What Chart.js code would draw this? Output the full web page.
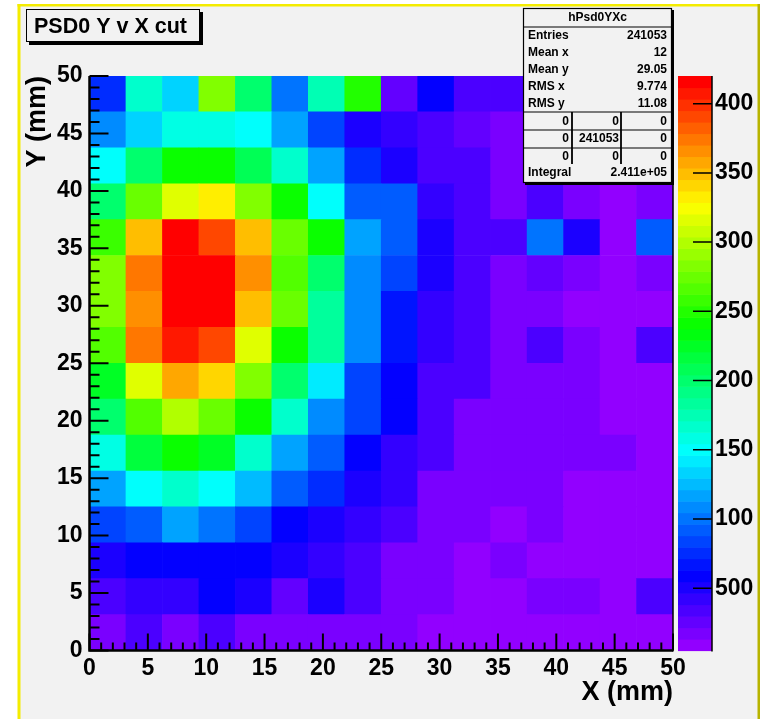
<!DOCTYPE html>
<html>
<head>
<meta charset="utf-8">
<script src="https://cdn.jsdelivr.net/npm/chart.js"></script>
<style>
  body { margin: 0; background: #fff; }
  canvas { display: block; }
</style>
</head>
<body>
<canvas id="psdChart" width="765" height="719"></canvas>
<script>
// histogram binning (16 x 16 bins over 0..50 mm)
const axisMin = 0;
const axisMax = 50;
const nBins = 16;

// bin contents, one array per Y bin, from the bottom row (y = 0) upwards
const cellCounts = [
    [17, 30, 17, 30, 17, 17, 17, 17, 17, 9, 9, 9, 9, 9, 9, 9],
    [34, 42, 42, 59, 51, 26, 51, 34, 17, 17, 9, 9, 17, 17, 9, 34],
    [51, 59, 59, 59, 55, 51, 42, 30, 17, 17, 9, 21, 9, 9, 9, 9],
    [84, 96, 113, 100, 84, 59, 51, 42, 30, 17, 17, 9, 17, 9, 9, 9],
    [117, 150, 167, 150, 125, 96, 76, 51, 42, 17, 17, 17, 17, 9, 9, 9],
    [159, 217, 242, 221, 167, 117, 92, 59, 42, 30, 17, 17, 17, 17, 21, 9],
    [200, 266, 300, 275, 242, 167, 109, 84, 59, 30, 17, 17, 17, 17, 9, 9],
    [225, 316, 358, 341, 283, 200, 142, 84, 59, 34, 34, 17, 17, 17, 9, 9],
    [266, 374, 408, 391, 316, 242, 183, 109, 67, 42, 30, 17, 34, 17, 9, 30],
    [283, 366, 415, 417, 349, 275, 183, 109, 67, 42, 30, 17, 17, 9, 9, 13],
    [283, 374, 420, 416, 362, 266, 200, 109, 84, 51, 34, 17, 26, 17, 9, 17],
    [258, 349, 418, 391, 349, 275, 242, 117, 96, 51, 34, 30, 100, 51, 9, 92],
    [200, 275, 316, 333, 283, 242, 150, 92, 88, 42, 34, 17, 34, 17, 9, 17],
    [150, 200, 242, 242, 208, 167, 117, 76, 51, 34, 30, 17, 17, 17, 9, 17],
    [105, 134, 159, 159, 150, 117, 84, 51, 42, 34, 26, 17, 17, 17, 9, 17],
    [76, 167, 134, 283, 200, 100, 175, 250, 26, 59, 34, 34, 26, 17, 17, 17]
];

// colour scale
const zMin = 5;
const zMax = Math.max(...cellCounts.flat());
const zTickValues = [50, 100, 150, 200, 250, 300, 350, 400];
const zTickLabels = ['500', '100', '150', '200', '250', '300', '350', '400'];
const nColors = 50;

// stats box
const statsName = 'hPsd0YXc';
const statsLabels = ['Entries', 'Mean x', 'Mean y', 'RMS x', 'RMS y'];
const statsValues = ['241053', '12', '29.05', '9.774', '11.08'];
const overflowCells = [
    ['0', '0', '0'],
    ['0', '241053', '0'],
    ['0', '0', '0']
];
const integralValue = '2.411e+05';

const FONT = '"Liberation Sans", Arial, Helvetica, sans-serif';
const binWidth = (axisMax - axisMin) / nBins;

function paletteIndex(z) {
    let k = Math.floor((z - zMin) / (zMax - zMin) * nColors);
    return Math.max(0, Math.min(nColors - 1, k));
}

function paletteColor(k) {
    // ROOT "pretty" palette: hue 280 -> 0, full saturation
    const hue = 280 - (k + 1) * (280 / nColors);
    return 'hsl(' + hue + ',100%,50%)';
}

const datasets = cellCounts.map((row, r) => ({
    label: 'y bin ' + r,
    data: row.map((v, i) => ({
        x: axisMin + (i + 0.5) * binWidth,
        y: [axisMin + r * binWidth, axisMin + (r + 1) * binWidth],
        z: v
    })),
    backgroundColor: row.map(v => paletteColor(paletteIndex(v))),
    borderWidth: 0,
    grouped: false,
    barPercentage: 1,
    categoryPercentage: 1
}));

const backgroundPlugin = {
    id: 'rootPad',
    beforeDraw(chart) {
        const c = chart.ctx;
        c.save();
        c.fillStyle = '#ffffff';
        c.fillRect(0, 0, chart.width, chart.height);
        c.fillStyle = '#f2f2f2';
        c.fillRect(19, 5, 740, chart.height);
        c.fillStyle = '#f4ec00';
        c.fillRect(17.5, 4, 3, chart.height);
        c.fillRect(17.5, 4, 742, 2.5);
        c.fillStyle = '#b8b400';
        c.fillRect(757.5, 4, 2.5, chart.height);
        c.restore();
    }
};

const decorPlugin = {
    id: 'rootDecor',
    afterDraw(chart) {
        const c = chart.ctx;
        const area = chart.chartArea;
        const xs = chart.scales.x;
        const ys = chart.scales.y;
        const zs = chart.scales.z;
        c.save();

        // frame and axis lines
        c.strokeStyle = '#000';
        c.lineWidth = 1.5;
        c.beginPath();
        c.moveTo(area.right, area.top);
        c.lineTo(area.right, area.bottom + 1);
        c.stroke();
        c.lineWidth = 2.5;
        c.beginPath();
        c.moveTo(area.left, area.top);
        c.lineTo(area.left, area.bottom);
        c.lineTo(area.right, area.bottom);
        c.stroke();

        // inward ticks, major every 5 mm, minor every 1 mm
        c.lineWidth = 2;
        c.beginPath();
        for (let v = axisMin; v <= axisMax; v++) {
            const major = v % 5 === 0;
            const py = ys.getPixelForValue(v);
            c.moveTo(area.left, py);
            c.lineTo(area.left + (major ? 19 : 10), py);
            const px = xs.getPixelForValue(v);
            c.moveTo(px, area.bottom);
            c.lineTo(px, area.bottom - (major ? 17 : 8));
        }
        c.stroke();

        // colour bar
        const barL = 678, barR = 712;
        for (let k = 0; k < nColors; k++) {
            const z0 = zMin + k * (zMax - zMin) / nColors;
            const z1 = zMin + (k + 1) * (zMax - zMin) / nColors;
            const y0 = zs.getPixelForValue(z0);
            const y1 = zs.getPixelForValue(z1);
            c.fillStyle = paletteColor(k);
            c.fillRect(barL, y1, barR - barL, y0 - y1 + 0.6);
        }
        c.strokeStyle = '#000';
        c.lineWidth = 1.5;
        c.beginPath();
        c.moveTo(barR, zs.getPixelForValue(zMax));
        c.lineTo(barR, zs.getPixelForValue(zMin) + 1);
        zTickValues.forEach(v => {
            const py = zs.getPixelForValue(v);
            c.moveTo(barR - 19, py);
            c.lineTo(barR, py);
        });
        c.stroke();

        // title box
        c.fillStyle = '#000';
        c.fillRect(29, 12, 174, 33);
        c.fillStyle = '#f2f2f2';
        c.fillRect(26, 9, 174, 33);
        c.lineWidth = 1;
        c.strokeRect(26.5, 9.5, 173, 32);
        c.fillStyle = '#000';
        c.font = 'bold 21.5px ' + FONT;
        c.textAlign = 'left';
        c.textBaseline = 'middle';
        c.fillText('PSD0 Y v X cut', 34, 27);

        // stats box
        const sL = 523, sR = 672, sT = 8, sB = 183;
        c.fillStyle = '#000';
        c.fillRect(sL + 2, sT + 2, sR - sL, sB - sT);
        c.fillStyle = '#f2f2f2';
        c.fillRect(sL, sT, sR - sL, sB - sT);
        c.strokeStyle = '#000';
        c.lineWidth = 1.2;
        c.strokeRect(sL + 0.5, sT + 0.5, sR - sL - 1, sB - sT - 1);
        c.beginPath();
        c.moveTo(sL, 27); c.lineTo(sR, 27);
        c.moveTo(sL, 112); c.lineTo(sR, 112);
        c.moveTo(sL, 130); c.lineTo(sR, 130);
        c.moveTo(sL, 148); c.lineTo(sR, 148);
        c.stroke();
        c.lineWidth = 1.8;
        c.beginPath();
        c.moveTo(572, 112); c.lineTo(572, 164);
        c.moveTo(621, 112); c.lineTo(621, 164);
        c.stroke();

        c.fillStyle = '#000';
        c.font = 'bold 12px ' + FONT;
        c.textAlign = 'center';
        c.fillText(statsName, (sL + sR) / 2, 18);
        statsLabels.forEach((lab, i) => {
            const py = 36 + i * 16.8;
            c.textAlign = 'left';
            c.fillText(lab, 528, py);
            c.textAlign = 'right';
            c.fillText(statsValues[i], 667, py);
        });
        const colRight = [569, 619, 667];
        overflowCells.forEach((row, r) => {
            const py = 121.5 + r * 17.5;
            row.forEach((txt, j) => {
                c.textAlign = 'right';
                c.fillText(txt, colRight[j], py);
            });
        });
        c.textAlign = 'left';
        c.fillText('Integral', 528, 173);
        c.textAlign = 'right';
        c.fillText(integralValue, 667, 173);

        c.restore();
    }
};

const ctx = document.getElementById('psdChart').getContext('2d');
Chart.defaults.color = '#000';
Chart.defaults.font.family = FONT;

const psdChart = new Chart(ctx, {
    type: 'bar',
    data: { datasets: datasets },
    options: {
        responsive: false,
        animation: false,
        devicePixelRatio: 1,
        layout: { padding: { top: 76, left: 0, right: 0, bottom: 0 } },
        plugins: {
            legend: { display: false },
            tooltip: { enabled: false }
        },
        scales: {
            x: {
                type: 'linear',
                min: axisMin,
                max: axisMax,
                offset: false,
                grid: { display: false, drawTicks: false },
                border: { display: false },
                ticks: {
                    stepSize: 5,
                    autoSkip: false,
                    maxRotation: 0,
                    padding: 4,
                    font: { size: 23, weight: 'bold' }
                },
                title: {
                    display: true,
                    text: 'X (mm)',
                    align: 'end',
                    font: { size: 27, weight: 'bold', lineHeight: 1 },
                    padding: { top: 0, bottom: 13 }
                },
                afterFit(scale) { scale.height = 68.5; }
            },
            y: {
                type: 'linear',
                min: axisMin,
                max: axisMax,
                grid: { display: false, drawTicks: false },
                border: { display: false },
                ticks: {
                    stepSize: 5,
                    autoSkip: false,
                    padding: 7,
                    font: { size: 23, weight: 'bold' }
                },
                title: {
                    display: true,
                    text: 'Y (mm)',
                    align: 'end',
                    font: { size: 27, weight: 'bold', lineHeight: 1 },
                    padding: { top: 24, bottom: 0 }
                },
                afterFit(scale) { scale.width = 89.5; }
            },
            z: {
                type: 'linear',
                position: 'right',
                min: zMin,
                max: zMax,
                grid: { display: false, drawTicks: false },
                border: { display: false },
                ticks: {
                    stepSize: 50,
                    includeBounds: false,
                    autoSkip: false,
                    padding: 42,
                    font: { size: 23, weight: 'bold' },
                    callback: function (value) {
                        const i = zTickValues.indexOf(value);
                        return i >= 0 ? zTickLabels[i] : '';
                    }
                },
                afterFit(scale) { scale.width = 92; }
            }
        }
    },
    plugins: [backgroundPlugin, decorPlugin]
});
</script>
</body>
</html>
